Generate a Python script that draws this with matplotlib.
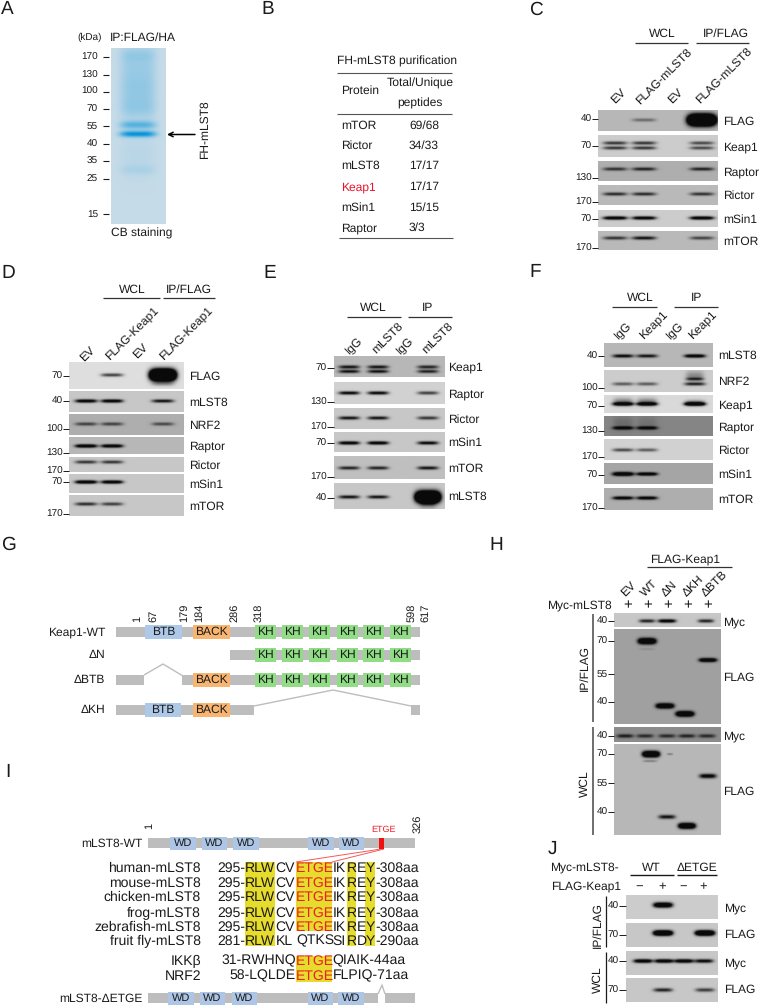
import numpy as np
import matplotlib
matplotlib.use("Agg")
import matplotlib.pyplot as plt
from matplotlib.patches import Rectangle

plt.rcParams['font.family'] = ['Liberation Sans', 'DejaVu Sans']
plt.rcParams['text.hinting'] = 'no_hinting'
plt.rcParams['text.hinting_factor'] = 1

# ---------------- data ----------------
gel_kda = [170, 130, 100, 70, 55, 40, 35, 25, 15]
table_proteins = ["mTOR", "Rictor", "mLST8", "Keap1", "mSin1", "Raptor"]
table_peptides = ["69/68", "34/33", "17/17", "17/17", "15/15", "3/3"]

C_lanes = ["EV", "FLAG-mLST8", "EV", "FLAG-mLST8"]
C_proteins = ["FLAG", "Keap1", "Raptor", "Rictor", "mSin1", "mTOR"]
C_kda = [40, 70, 130, 170, 70, 170]
C_bg = [.72, .80, .68, .73, .80, .73]
C_levels = [[0, .45, 0, 4.0], [.8, .8, 0, .7], [.8, .9, 0, .9], [.85, .85, 0, .8], [1.4, 1.3, 0, 1.4], [.8, 1.0, 0, .7]]

D_lanes = ["EV", "FLAG-Keap1", "EV", "FLAG-Keap1"]
D_proteins = ["FLAG", "mLST8", "NRF2", "Raptor", "Rictor", "mSin1", "mTOR"]
D_kda = [70, 40, 100, 130, 170, 70, 170]
D_bg = [.87, .78, .68, .72, .78, .78, .78]
D_levels = [[0, .75, 0, 4.0], [1.3, 1.3, 0, 1.0], [.7, .7, 0, .65], [1.5, 1.4, 0, 0], [.8, .8, 0, 0], [1.5, 1.4, 0, 0], [.85, .75, 0, 0]]

E_lanes = ["IgG", "mLST8", "IgG", "mLST8"]
E_proteins = ["Keap1", "Raptor", "Rictor", "mSin1", "mTOR", "mLST8"]
E_kda = [70, 130, 170, 70, 170, 40]
E_bg = [.72, .82, .78, .78, .75, .78]
E_levels = [[1.0, 1.0, 0, .9], [1.1, 1.1, 0, .75], [1.0, 1.0, 0, .8], [1.3, 1.3, 0, 1.1], [.9, .9, 0, 1.0], [1.0, 1.0, 0, 4.0]]

F_lanes = ["IgG", "Keap1", "IgG", "Keap1"]
F_proteins = ["mLST8", "NRF2", "Keap1", "Raptor", "Rictor", "mSin1", "mTOR"]
F_kda = [40, 100, 70, 130, 170, 70, 170]
F_bg = [.72, .80, .85, .52, .82, .65, .68]
F_levels = [[1.1, 1.0, 0, 1.4], [.6, .6, 0, .9], [1.3, 1.3, 0, 1.5], [1.3, 1.3, 0, 0], [.7, .6, 0, 0], [1.7, 1.5, 0, 0], [1.3, 1.3, 0, 0]]

G_rows = ["Keap1-WT", "\u0394N", "\u0394BTB", "\u0394KH"]
G_residues = [1, 67, 179, 184, 286, 318, 598, 617]

H_lanes = ["EV", "WT", "\u0394N", "\u0394KH", "\u0394BTB"]
H_proteins = ["Myc", "FLAG", "Myc", "FLAG"]
H_kda = [40, 70, 55, 40, 40, 70, 55, 40]
H_myc_ip = [0, .9, 1.3, 0, .9]
H_flag_ip = [0, 2.2, 2.0, 2.2, 1.6]
H_myc_wcl = [.9, .8, .8, .85, .8]
H_flag_wcl = [0, 2.4, 1.0, 2.2, 1.2]

I_species = ["human-mLST8", "mouse-mLST8", "chicken-mLST8", "frog-mLST8", "zebrafish-mLST8", "fruit fly-mLST8"]
I_starts = ["295-", "295-", "295-", "295-", "295-", "281-"]
I_ends = ["-308aa", "-308aa", "-308aa", "-308aa", "-308aa", "-290aa"]
I_mid = ["CV", "CV", "CV", "CV", "CV", "KL"]
I_core = ["ETGE", "ETGE", "ETGE", "ETGE", "ETGE", "QTKS"]
I_after = ["IK", "IK", "IK", "IK", "IK", "SI"]
I_gap = ["E", "E", "E", "E", "E", "D"]
I_other = ["IKK\u03b2", "NRF2"]
I_other_left = ["31-RWHNQ", "58-LQLDE"]
I_other_right = ["QIAIK-44aa", "FLPIQ-71aa"]

J_proteins = ["Myc", "FLAG", "Myc", "FLAG"]
J_kda = [40, 70, 40, 70]
J_levels = [[0, 1.8, 0, 0], [0, 2.4, 0, 2.4], [1.4, 1.4, 1.4, 1.1], [0, .9, 0, .75]]

# ---------------- canvas ----------------
fig = plt.figure(figsize=(7.6, 10.07), dpi=100)
ax = fig.add_axes([0, 0, 1, 1])
ax.axis('off')
BLACK = '#1a1a1a'
GRAY = '#bdbdbd'


def T(x, y, s, size=8.5, ha='left', va='center', color=BLACK, rot=0, **kw):
    ax.text(x, y, s, fontsize=size, ha=ha, va=va, color=color, rotation=rot,
            rotation_mode='anchor', **kw)


def L(xs, ys, color=BLACK, lw=0.8):
    ax.plot(xs, ys, color=color, lw=lw, solid_capstyle='butt')


def blot(box, bg, bands):
    x0, x1, y0, y1 = box
    xs = np.linspace(x0, x1, int((x1 - x0) * 3))
    ys = np.linspace(y0, y1, int((y1 - y0) * 3))
    X, Y = np.meshgrid(xs, ys)
    d = np.zeros_like(X)
    for cx, cy, hw, th, lvl in bands:
        d += lvl * np.exp(-np.abs((X - cx) / hw) ** 4) * np.exp(-((Y - cy) / th) ** 2)
    img = bg - (bg - 0.04) * np.clip(d, 0, 1)
    ax.imshow(img, extent=(x0, x1, y1, y0), cmap='gray', vmin=0, vmax=1,
              aspect='auto', interpolation='bilinear', zorder=1)


def strip_set(proteins, kda, bgs, levels, boxes, tick_y, band_y, lane_x, hw, tick_x, label_x, base=1.7, extras=None):
    extras = extras or {}
    for i, box in enumerate(boxes):
        bands = list(extras.get(i, []))
        for j, lx in enumerate(lane_x):
            lvl = levels[i][j]
            if lvl <= 0:
                continue
            scale = 1 + 0.85 * max(lvl - 1.5, 0)
            for y in band_y[i]:
                bands.append((lx, y, hw * (1 + 0.06 * max(lvl - 1.5, 0)), base * scale, lvl))
        blot(box, bgs[i], bands)
        T(label_x, (box[2] + box[3]) / 2 + 1, proteins[i], 8.8)
        L([tick_x, box[0]], [tick_y[i], tick_y[i]], lw=0.7)
        T(tick_x, tick_y[i], str(kda[i]), 7.4, ha='right')


def rotated(labels, starts, size=8.8):
    for s, (x, y) in zip(labels, starts):
        T(x, y, s, size, rot=45)


def header(items):
    for s, cx, y, x0, x1, ly in items:
        T(cx, y, s, 8.6, ha='center')
        L([x0, x1], [ly, ly], color='#333333', lw=0.9)


for s, x, y in [("A", 1, 9), ("B", 261, 9), ("C", 529, 10), ("D", 1, 273), ("E", 263, 273),
                ("F", 529, 272), ("G", 1, 545), ("H", 489, 545), ("I", 5, 772), ("J", 548, 849)]:
    T(x, y, s, 14)

# ---------------- A ----------------
gx = np.linspace(111, 166, 170)
gy = np.linspace(48, 224, 530)
GX, GY = np.meshgrid(gx, gy)
lane = np.exp(-np.abs((GX - 138) / 18) ** 4)
gel_bands = [(134, 3.0, 1.0), (125, 4.0, .55), (108, 12, .24), (90, 14, .17), (68, 22, .22),
             (55, 7, .12), (170, 5, .1), (155, 24, .07)]
dens = np.zeros_like(GX)
for c, w, v in gel_bands:
    dens += v * np.exp(-((GY - c) / w) ** 2)
dens = np.clip(dens * lane, 0, 1)
base = np.array([.78, .86, .91])
ink = np.array([.02, .58, .85])
gel = base + (ink - base) * dens[..., None]
ax.imshow(gel, extent=(111, 166, 224, 48), aspect='auto', interpolation='bilinear', zorder=1)
for k, y in zip(gel_kda, [57, 75, 91.5, 109, 126, 144, 161, 179, 214]):
    T(98, y, str(k), 7.4, ha='right')
    L([103, 109], [y, y], lw=0.8)
T(77, 37, "(kDa)", 7.4)
T(110, 38, "IP:FLAG/HA", 8.6)
T(142, 233, "CB staining", 8.6, ha='center')
T(205, 130, "FH-mLST8", 8.5, ha='center', rot=90)
ax.annotate("", xy=(167, 134.5), xytext=(195, 134.5),
            arrowprops=dict(arrowstyle='->', color='black', lw=1.1, mutation_scale=8, shrinkA=0, shrinkB=0))

# ---------------- B ----------------
T(397, 61, "FH-mLST8 purification", 8.7, ha='center')
L([337, 452], [72.5, 72.5], '#555555')
L([337, 452], [114, 114], '#555555')
L([339, 453], [237.5, 237.5], '#555555')
T(360, 91, "Protein", 8.7, ha='center')
T(420, 83, "Total/Unique", 8.7, ha='center')
T(420, 103, "peptides", 8.7, ha='center')
for p, v, y in zip(table_proteins, table_peptides, [126, 146, 166, 187, 208, 228]):
    T(341, y, p, 8.7, color='#e8112d' if p == "Keap1" else BLACK)
    T(409, y, v, 8.7)

# ---------------- C ----------------
header([("WCL", 662, 34, 635, 688, 43), ("IP/FLAG", 726, 34, 696, 749, 43)])
rotated(C_lanes, [(613, 102), (638, 103), (670, 102), (698, 102)])
strip_set(C_proteins, C_kda, C_bg, C_levels,
          [(598, 718, 110, 131), (598, 718, 135, 157), (598, 718, 161, 181),
           (598, 718, 185, 205), (598, 718, 210, 227), (598, 718, 231, 250)],
          [119, 146, 178, 202, 219, 248], [[120], [143, 148], [169], [194], [218], [238]],
          [615, 644, 673, 702], 12, 592, 723)

# ---------------- D ----------------
header([("WCL", 132, 290, 103, 160, 298), ("IP/FLAG", 189, 290, 163, 215, 298)])
rotated(D_lanes, [(82, 360), (107, 358), (135, 357), (161, 358)])
strip_set(D_proteins, D_kda, D_bg, D_levels,
          [(69, 184, 362, 389), (69, 184, 391, 412), (69, 184, 414, 435), (69, 184, 437, 454),
           (69, 184, 457, 472), (69, 184, 474, 493), (69, 184, 495, 516)],
          [376, 401, 429, 453, 471, 482, 514], [[375], [401], [424], [446], [462], [482], [504]],
          [86, 112, 138, 163], 11, 63, 189,
          extras={0: [(163, 384, 11, 2.2, .25)]})

# ---------------- E ----------------
header([("WCL", 373, 308, 347, 401, 317), ("IP", 428, 308, 408, 452, 317)])
rotated(E_lanes, [(347, 352), (374, 352), (398, 352), (424, 352)])
strip_set(E_proteins, E_kda, E_bg, E_levels,
          [(334, 445, 356, 377), (334, 445, 382, 404), (334, 445, 408, 429),
           (334, 445, 432, 452), (334, 445, 456, 479), (334, 445, 483, 509)],
          [368, 402, 427, 443, 477, 498], [[367, 371.5], [393], [418], [443], [468], [497]],
          [349, 378, 403, 428], 10.5, 327, 448,
          extras={5: [(428, 503, 8, 5, .4)]})

# ---------------- F ----------------
header([("WCL", 640, 298, 612, 657, 307), ("IP", 697, 298, 674, 718, 307)])
rotated(F_lanes, [(616, 337), (641, 337), (668, 337), (690, 337)])
strip_set(F_proteins, F_kda, F_bg, F_levels,
          [(604, 713, 343, 367), (604, 713, 370, 392), (604, 713, 395, 413), (604, 713, 416, 436),
           (604, 713, 439, 460), (604, 713, 463, 484), (604, 713, 488, 510)],
          [356, 388, 406, 431, 457, 475, 508], [[356], [384], [404], [428], [450], [474], [498]],
          [623, 647, 672, 695], 10.5, 598, 718,
          extras={1: [(695, 379, 9, 1.6, .7), (695, 376, 9, 5, .35)],
                  2: [(623, 402, 10, 4, .45), (647, 402, 10, 4, .45), (695, 403, 10, 3, .5)],
                  3: [(623, 423, 10, 7, .2), (647, 423, 10, 7, .15)]})

# ---------------- G ----------------
for s, y in zip(G_rows, [632, 655, 680, 710]):
    T(105, y, s, 8.6, ha='right')


def bar(x0, x1, y, h=10):
    ax.add_patch(Rectangle((x0, y - h / 2), x1 - x0, h, fc=GRAY, ec='none', zorder=2))


def dom(x0, x1, y, s, fc, h=14, size=8.6):
    ax.add_patch(Rectangle((x0, y - h / 2), x1 - x0, h, fc=fc, ec='none', zorder=3))
    T((x0 + x1) / 2, y, s, size, ha='center', zorder=4)


BTB, BACK, KH, WD = '#aec8e8', '#f8b572', '#90dd86', '#aec6e6'
kh_x = [255, 282, 309, 337, 363, 390]
bar(116, 420, 632)
bar(230, 420, 655)
bar(116, 144, 680)
bar(182, 420, 680)
bar(116, 254, 710)
bar(411, 420, 710)
dom(145, 182, 632, "BTB", BTB)
dom(193, 230, 632, "BACK", BACK)
dom(193, 230, 680, "BACK", BACK)
dom(144.5, 181, 710, "BTB", BTB)
dom(193, 230, 710, "BACK", BACK)
for y in [632, 655, 680]:
    for x in kh_x:
        dom(x, x + 21, y, "KH", KH)
L([144, 163, 183], [675, 664, 676], GRAY, 1)
L([254, 333, 411], [706, 690, 706], GRAY, 1)
for r, x in zip(G_residues, [133, 149, 180, 195, 230, 255, 408, 421]):
    T(x + 4, 622, str(r), 8, rot=90)

# ---------------- H ----------------
H_x = [627, 647, 667, 687, 707]
T(685, 559, "FLAG-Keap1", 8.8, ha='center')
L([647, 732], [567, 567], '#333333', 0.9)
rotated(H_lanes, [(623, 595), (643, 595), (663, 595), (684, 595), (703, 595)])
T(612, 605.5, "Myc-mLST8", 8.8, ha='right')
for x in H_x:
    T(x + 0.5, 605.5, "+", 10.5, ha='center')
blot((614, 721, 613, 627), .78,
     [(x, 621, 8 + 1 * (v > 1), 1.8, v) for x, v in zip([647, 667, 687, 706], H_myc_ip[1:]) if v > 0])
flag_ip_x = [647, 665, 685, 708]
flag_ip_y = [641, 706, 714, 660]
flag_ip_h = [2.9, 2.5, 2.6, 2.0]
blot((614, 721, 629, 724), .63,
     [(x, y, 9, h, v) for x, y, h, v in zip(flag_ip_x, flag_ip_y, flag_ip_h, H_flag_ip[1:])]
     + [(647, 649, 8, 1.0, .15)])
blot((614, 721, 727, 742), .55,
     [(x, 736, 8.5, 1.9, v) for x, v in zip([625, 645, 667, 687, 707], H_myc_wcl)])
flag_wcl_x = [651, 667, 687, 708]
flag_wcl_y = [754, 817, 826, 776]
flag_wcl_h = [2.9, 2.0, 2.7, 2.2]
blot((614, 721, 744, 835), .72,
     [(x, y, 8.5, h, v) for x, y, h, v in zip(flag_wcl_x, flag_wcl_y, flag_wcl_h, H_flag_wcl[1:])]
     + [(650, 761, 7, 1.0, .35), (670, 754, 3, 1.0, .35)])
for k, y in zip(H_kda, [621, 641, 674, 702, 736, 754, 783, 812]):
    T(607.5, y, str(k), 7.4, ha='right')
    L([608, 614], [y, y], lw=0.7)
for s, y in zip(H_proteins, [622, 678, 736, 792]):
    T(723, y, s, 8.8)
L([592.5, 592.5], [614, 722], '#555555', 1.2)
L([592.5, 592.5], [727, 835], '#555555', 1.2)
T(585, 668, "IP/FLAG", 8.8, ha='center', rot=90)
T(585, 784, "WCL", 8.8, ha='center', rot=90)

# ---------------- I ----------------
Y = '#e6dc2e'
row_y = [868, 883, 897, 913, 927, 941]
for x0, x1 in [(245, 275), (347, 356), (365, 375)]:
    ax.add_patch(Rectangle((x0, 862), x1 - x0, 84, fc=Y, ec='none', zorder=1))
ax.add_patch(Rectangle((296, 862), 36, 69, fc=Y, ec='none', zorder=1))
ax.add_patch(Rectangle((296, 956), 36, 26, fc=Y, ec='none', zorder=1))
SZ = 9.8
for i, y in enumerate(row_y):
    T(201, y, I_species[i], SZ, ha='right')
    T(245, y, I_starts[i], SZ, ha='right')
    T(245, y, "RLW", SZ)
    T(275.5, y, I_mid[i], SZ)
    T(296, y, I_core[i], SZ, color='#ee1c25' if I_core[i] == "ETGE" else BLACK)
    T(332.5, y, I_after[i], SZ)
    T(347, y, "R", SZ)
    T(356.5, y, I_gap[i], SZ)
    T(365.5, y, "Y", SZ)
    T(375, y, I_ends[i], SZ)
for i, y in enumerate([961, 976]):
    T(201, y, I_other[i], SZ, ha='right')
    T(296, y, I_other_left[i], SZ, ha='right')
    T(296, y, "ETGE", SZ, color='#ee1c25')
    T(332.5, y, I_other_right[i], SZ)
T(143, 843.5, "mLST8-WT", 8.3, ha='right')
bar(148, 415, 843)
for x0, x1 in [(170, 196), (202, 227), (233, 259), (308, 334), (339, 364)]:
    dom(x0, x1, 843, "WD", WD, h=13, size=8.2)
ax.add_patch(Rectangle((379, 838), 5, 11, fc='#f01010', ec='none', zorder=4))
T(383.5, 830, "ETGE", 6.3, ha='center', color='#ee1c25')
T(418, 833, "326", 8, rot=90)
T(149, 829, "1", 8, rot=90)
L([381, 296], [849, 862], '#f25a5a', 0.7)
L([384, 332], [849, 862], '#f25a5a', 0.7)
T(143, 998.5, "mLST8-\u0394ETGE", 8.3, ha='right')
bar(148, 378, 998)
bar(384.5, 415, 998)
for x0, x1 in [(168, 194), (200, 225), (232, 257), (308, 333), (338, 364)]:
    dom(x0, x1, 998, "WD", WD, h=13, size=8.2)
L([378, 382, 385], [994, 985, 994], GRAY, 1)

# ---------------- J ----------------
T(619, 867, "Myc-mLST8-", 8.6, ha='right')
T(621, 886, "FLAG-Keap1", 8.6, ha='right')
T(651, 867.5, "WT", 8.8, ha='center')
T(697, 867.5, "\u0394ETGE", 8.8, ha='center')
L([630, 674], [875, 875], BLACK, 1)
L([677, 717], [875, 875], BLACK, 1)
for x, s in zip([639, 662, 683, 703], ["\u2212", "+", "\u2212", "+"]):
    T(x, 886.5, s, 9.5, ha='center')
J_boxes = [(626, 718, 895, 919), (626, 718, 923, 947), (626, 718, 951, 975), (626, 718, 978, 1002)]
J_y = [905, 933, 961, 990]
J_bg = [.80, .78, .78, .78]
J_x = [[643, 663, 684, 705], [643, 663, 684, 705], [643, 664, 684, 704], [643, 663, 684, 705]]
for i, box in enumerate(J_boxes):
    blot(box, J_bg[i], [(x, J_y[i], 9.5, 1.9 + 0.6 * (v > 1.5), v) for x, v in zip(J_x[i], J_levels[i]) if v > 0])
for k, p, y, ly in zip(J_kda, J_proteins, [906, 935, 961, 990], [908, 935, 963, 990]):
    T(619, y, str(k), 7.4, ha='right')
    L([619, 626], [y, y], lw=0.7)
    T(724, ly, p, 8.8)
L([606, 606], [896, 947], BLACK, 0.9)
L([606, 606], [952, 1003], BLACK, 0.9)
T(597.5, 925, "IP/FLAG", 8.8, ha='center', rot=90)
T(597.5, 980, "WCL", 8.8, ha='center', rot=90)

ax.set_xlim(0, 760)
ax.set_ylim(1007, 0)
fig.savefig("out.png", dpi=100)
